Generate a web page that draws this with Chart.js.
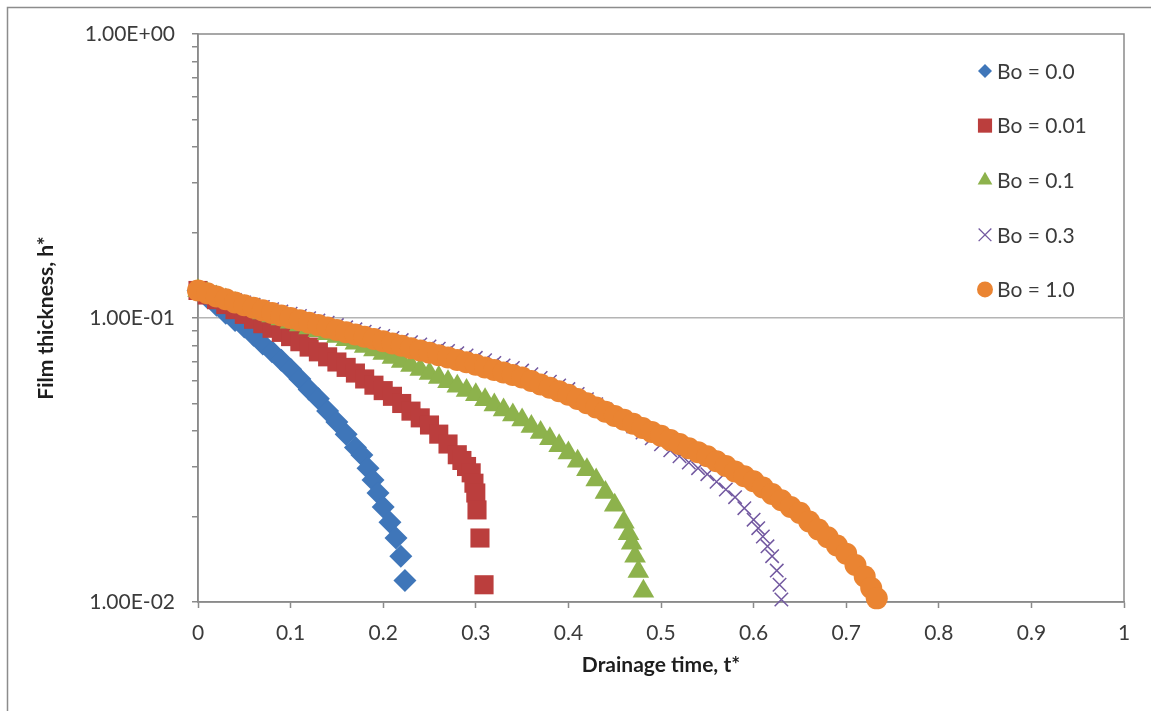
<!DOCTYPE html>
<html>
<head>
<meta charset="utf-8">
<script src="https://cdn.jsdelivr.net/npm/chart.js@4"></script>
<style>
  html, body { margin: 0; padding: 0; background: #fff; }
  #wrap { width: 1151px; height: 711px; }
</style>
</head>
<body>
<div id="wrap"><canvas id="film-chart" width="1151" height="711"></canvas></div>
<script>
// series names
const seriesNames = ["Bo = 0.0", "Bo = 0.01", "Bo = 0.1", "Bo = 0.3", "Bo = 1.0"];

// Bo = 0.0
const tBo0 = [0, 0.01, 0.02, 0.03, 0.04, 0.05, 0.06, 0.07, 0.08, 0.09, 0.10, 0.11, 0.12, 0.13, 0.14, 0.15, 0.16, 0.17,
    0.177, 0.1836, 0.189, 0.1944, 0.200, 0.2073, 0.2138, 0.219, 0.2235];
const hBo0 = [0.125, 0.118, 0.111, 0.104, 0.098, 0.093, 0.087, 0.081, 0.076, 0.071, 0.066, 0.061, 0.056, 0.052, 0.047, 0.043, 0.039, 0.035,
    0.0329, 0.0296, 0.0269, 0.0242, 0.0216, 0.0191, 0.0168, 0.0145, 0.0119];

// Bo = 0.01
const tBo001 = [0, 0.01, 0.02, 0.03, 0.04, 0.05, 0.06, 0.07, 0.08, 0.09, 0.10, 0.11, 0.12, 0.13, 0.14, 0.15, 0.16, 0.17, 0.18, 0.19,
    0.20, 0.21, 0.22, 0.23, 0.24, 0.25, 0.26, 0.27, 0.28, 0.285, 0.29, 0.295, 0.298, 0.300, 0.3013, 0.3045, 0.3089];
const hBo001 = [0.125, 0.1205, 0.116, 0.1115, 0.107, 0.103, 0.099, 0.0955, 0.092, 0.089, 0.086, 0.0825, 0.079, 0.076, 0.073, 0.070, 0.067, 0.064, 0.061, 0.058,
    0.0555, 0.053, 0.050, 0.047, 0.0445, 0.042, 0.039, 0.036, 0.033, 0.0315, 0.030, 0.0285, 0.0262, 0.0242, 0.0211, 0.0168, 0.0115];

// Bo = 0.1
const tBo01 = [0, 0.01, 0.02, 0.03, 0.04, 0.05, 0.06, 0.07, 0.08, 0.09, 0.10, 0.11, 0.12, 0.13, 0.14, 0.15, 0.16, 0.17, 0.18, 0.19,
    0.20, 0.21, 0.22, 0.23, 0.24, 0.25, 0.26, 0.27, 0.28, 0.29, 0.30, 0.31, 0.32, 0.33, 0.34, 0.35, 0.36, 0.37, 0.38, 0.39,
    0.40, 0.41, 0.42, 0.43, 0.44, 0.45, 0.46, 0.465, 0.4683, 0.472, 0.4755, 0.481];
const hBo01 = [0.125, 0.1219, 0.1186, 0.1156, 0.1125, 0.1096, 0.1069, 0.1042, 0.1016, 0.0991, 0.0966, 0.0944, 0.0923, 0.0902, 0.0881, 0.0861, 0.0838, 0.0815, 0.0793, 0.0771,
    0.0750, 0.0726, 0.0703, 0.0681, 0.0659, 0.0638, 0.0617, 0.0596, 0.0575, 0.0556, 0.0537, 0.0515, 0.0494, 0.0474, 0.0455, 0.0437, 0.0415, 0.0395, 0.0376, 0.0355,
    0.0335, 0.0313, 0.0292, 0.0269, 0.0243, 0.0219, 0.0191, 0.0174, 0.0161, 0.0145, 0.0128, 0.0109];

// Bo = 0.3
const tBo03 = [0, 0.01, 0.02, 0.03, 0.04, 0.05, 0.06, 0.07, 0.08, 0.09, 0.10, 0.11, 0.12, 0.13, 0.14, 0.15, 0.16, 0.17, 0.18, 0.19,
    0.20, 0.21, 0.22, 0.23, 0.24, 0.25, 0.26, 0.27, 0.28, 0.29, 0.30, 0.31, 0.32, 0.33, 0.34, 0.35, 0.36, 0.37, 0.38, 0.39,
    0.40, 0.41, 0.42, 0.43, 0.44, 0.45, 0.46, 0.47, 0.48, 0.49, 0.50, 0.51, 0.52, 0.53, 0.54, 0.55, 0.56, 0.57, 0.58, 0.59,
    0.60, 0.605, 0.61, 0.615, 0.62, 0.625, 0.628, 0.630];
const hBo03 = [0.1250, 0.1227, 0.1202, 0.1180, 0.1156, 0.1135, 0.1114, 0.1094, 0.1074, 0.1054, 0.1035, 0.1016, 0.0998, 0.0979, 0.0962, 0.0944, 0.0927, 0.0912, 0.0895, 0.0881,
    0.0865, 0.0851, 0.0836, 0.0822, 0.0807, 0.0794, 0.0780, 0.0766, 0.0752, 0.0738, 0.0724, 0.0710, 0.0695, 0.0681, 0.0667, 0.0653, 0.0634, 0.0615, 0.0597, 0.0579,
    0.0562, 0.0540, 0.0518, 0.0497, 0.0476, 0.0457, 0.0436, 0.0415, 0.0395, 0.0377, 0.0359, 0.0342, 0.0326, 0.0310, 0.0296, 0.0282, 0.0265, 0.0249, 0.0234, 0.0214,
    0.0195, 0.0182, 0.0170, 0.0157, 0.0145, 0.0129, 0.0115, 0.0102];

// Bo = 1.0
const tBo1 = [0, 0.01, 0.02, 0.03, 0.04, 0.05, 0.06, 0.07, 0.08, 0.09, 0.10, 0.11, 0.12, 0.13, 0.14, 0.15, 0.16, 0.17, 0.18, 0.19,
    0.20, 0.21, 0.22, 0.23, 0.24, 0.25, 0.26, 0.27, 0.28, 0.29, 0.30, 0.31, 0.32, 0.33, 0.34, 0.35, 0.36, 0.37, 0.38, 0.39,
    0.40, 0.41, 0.42, 0.43, 0.44, 0.45, 0.46, 0.47, 0.48, 0.49, 0.50, 0.51, 0.52, 0.53, 0.54, 0.55, 0.56, 0.57, 0.58, 0.59,
    0.60, 0.61, 0.62, 0.63, 0.64, 0.65, 0.66, 0.67, 0.68, 0.69, 0.70, 0.71, 0.72, 0.727, 0.733];
const hBo1 = [0.1250, 0.1222, 0.1191, 0.1164, 0.1135, 0.1109, 0.1086, 0.1064, 0.1042, 0.1021, 0.1000, 0.0982, 0.0962, 0.0944, 0.0925, 0.0908, 0.0891, 0.0875, 0.0859, 0.0843,
    0.0828, 0.0813, 0.0798, 0.0783, 0.0769, 0.0755, 0.0740, 0.0726, 0.0711, 0.0698, 0.0684, 0.0670, 0.0656, 0.0643, 0.0630, 0.0617, 0.0600, 0.0583, 0.0568, 0.0552,
    0.0537, 0.0519, 0.0501, 0.0484, 0.0468, 0.0452, 0.0438, 0.0424, 0.0410, 0.0397, 0.0385, 0.0372, 0.0360, 0.0348, 0.0337, 0.0326, 0.0313, 0.0301, 0.0288, 0.0277,
    0.0266, 0.0253, 0.0240, 0.0228, 0.0216, 0.0206, 0.0192, 0.0180, 0.0169, 0.0158, 0.0148, 0.0135, 0.0123, 0.0112, 0.0103];

// axis ticks
const xTicks = [0, 0.1, 0.2, 0.3, 0.4, 0.5, 0.6, 0.7, 0.8, 0.9, 1];
const xTickLabels = ["0", "0.1", "0.2", "0.3", "0.4", "0.5", "0.6", "0.7", "0.8", "0.9", "1"];
const yTicks = [0.01, 0.02, 0.03, 0.04, 0.05, 0.06, 0.07, 0.08, 0.09,
    0.1, 0.2, 0.3, 0.4, 0.5, 0.6, 0.7, 0.8, 0.9, 1];
const yMajor = [0.01, 0.1, 1];
const yTickLabels = ["1.00E-02", "1.00E-01", "1.00E+00"];

const toPoints = (ts, hs) => ts.map((t, i) => ({ x: t, y: hs[i] }));

Chart.defaults.font.family = "Lato, 'Open Sans', sans-serif";
Chart.defaults.color = '#3b3b3b';

const styles = [
    { color: '#3f76b9', pointStyle: 'rectRot', radius: 11.5, order: 5 },
    { color: '#bb3e3d', pointStyle: 'rect', radius: 13.5, order: 4 },
    { color: '#8db24c', pointStyle: 'triangle', radius: 12.5, order: 3 },
    { color: '#7258a0', pointStyle: 'crossRot', radius: 9.5, order: 2 },
    { color: '#ea8432', pointStyle: 'circle', radius: 11, order: 1 }
];
const seriesData = [toPoints(tBo0, hBo0), toPoints(tBo001, hBo001), toPoints(tBo01, hBo01),
    toPoints(tBo03, hBo03), toPoints(tBo1, hBo1)];

const datasets = seriesNames.map((name, i) => ({
    label: name,
    data: seriesData[i],
    order: styles[i].order,
    pointStyle: styles[i].pointStyle,
    pointRadius: styles[i].radius,
    backgroundColor: styles[i].color,
    borderColor: styles[i].color,
    pointBorderWidth: styles[i].pointStyle === 'crossRot' ? 1.5 : 0,
    showLine: false,
    clip: false
}));

// frame round the picture, box round the plot area and the legend inside it
const framePlugin = {
    id: 'frame',
    beforeDraw(chart) {
        const ctx = chart.ctx;
        ctx.save();
        ctx.strokeStyle = '#8c8c8c';
        ctx.lineWidth = 1.5;
        ctx.beginPath();
        ctx.moveTo(7.5, 711);
        ctx.lineTo(7.5, 7.5);
        ctx.lineTo(1151, 7.5);
        ctx.stroke();
        const a = chart.chartArea;
        ctx.lineWidth = 1.5;
        ctx.strokeStyle = '#8a8a8a';
        ctx.strokeRect(a.left, a.top, a.right - a.left, a.bottom - a.top);
        ctx.restore();
    },
    afterDraw(chart) {
        const ctx = chart.ctx;
        const legendX = 985, legendY = 71, rowGap = 54.6;
        ctx.save();
        ctx.font = "21px Lato, 'Open Sans', sans-serif";
        ctx.textBaseline = 'middle';
        chart.data.datasets.forEach((ds, i) => {
            const y = legendY + i * rowGap;
            ctx.fillStyle = ds.backgroundColor;
            ctx.strokeStyle = ds.borderColor;
            const bw = ds.pointStyle === 'crossRot' ? 1.3 : 0;
            ctx.lineWidth = bw;
            const r = { rectRot: 7, rect: 10, triangle: 8.5, crossRot: 9, circle: 8 }[ds.pointStyle];
            Chart.helpers.drawPoint(ctx, { pointStyle: ds.pointStyle, radius: r, borderWidth: bw, rotation: 0 }, legendX, y);
            ctx.fillStyle = '#3b3b3b';
            ctx.fillText(ds.label, legendX + 12, y + 1);
        });
        ctx.restore();
    }
};

new Chart(document.getElementById('film-chart'), {
    type: 'scatter',
    data: { datasets: datasets },
    options: {
        responsive: false,
        animation: false,
        layout: { padding: { left: 8, top: 34, right: 27, bottom: 20 } },
        plugins: {
            legend: { display: false },
            tooltip: { enabled: false }
        },
        scales: {
            x: {
                type: 'linear',
                min: 0,
                max: 1,
                afterBuildTicks: (scale) => { scale.ticks = xTicks.map(v => ({ value: v })); },
                afterFit: (scale) => { scale.height = 89; },
                ticks: {
                    autoSkip: false,
                    maxRotation: 0,
                    padding: 13,
                    font: { size: 21 },
                    color: '#3b3b3b',
                    callback: (v) => xTickLabels[xTicks.indexOf(v)]
                },
                grid: {
                    drawOnChartArea: false,
                    tickLength: 6,
                    tickColor: '#8a8a8a',
                    tickWidth: 1.5
                },
                border: { color: '#8a8a8a', width: 1.5 },
                title: {
                    display: true,
                    text: 'Drainage time, t*',
                    color: '#1e1e1e',
                    font: { size: 21, weight: 'bold' },
                    padding: { top: 0, bottom: 13 }
                }
            },
            y: {
                type: 'logarithmic',
                min: 0.01,
                max: 1,
                afterBuildTicks: (scale) => { scale.ticks = yTicks.map(v => ({ value: v, major: yMajor.includes(v) })); },
                afterFit: (scale) => { scale.width = 190; },
                ticks: {
                    autoSkip: false,
                    padding: 17,
                    font: { size: 21 },
                    color: '#3b3b3b',
                    callback: (v) => {
                        const k = yMajor.indexOf(v);
                        return k >= 0 ? yTickLabels[k] : '';
                    }
                },
                grid: {
                    color: (ctx) => (ctx.tick && ctx.tick.value === 0.1) ? '#b4b4b4' : 'rgba(0,0,0,0)',
                    lineWidth: 1.5,
                    tickLength: 6,
                    tickColor: '#8a8a8a',
                    tickWidth: 1.5
                },
                border: { color: '#8a8a8a', width: 1.5 },
                title: {
                    display: true,
                    text: 'Film thickness, h*',
                    color: '#1e1e1e',
                    font: { size: 21, weight: 'bold' },
                    padding: { top: 26, bottom: 0 }
                }
            }
        }
    },
    plugins: [framePlugin]
});
</script>
</body>
</html>
